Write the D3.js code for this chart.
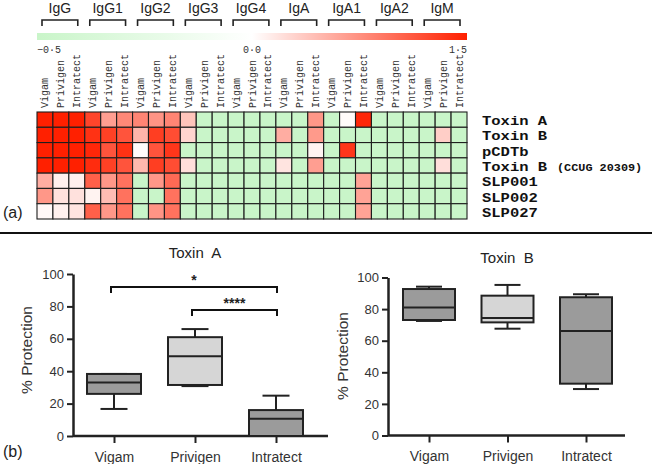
<!DOCTYPE html>
<html><head><meta charset="utf-8">
<script src="https://cdn.jsdelivr.net/npm/d3@7"></script>
<style>body{margin:0;background:#fff}svg{display:block}</style>
</head><body>
<script>
// ---------- DATA ----------
const groups = ["IgG","IgG1","IgG2","IgG3","IgG4","IgA","IgA1","IgA2","IgM"];
const products = ["Vigam","Privigen","Intratect"];
const antigens = ["Toxin A","Toxin B","pCDTb","Toxin B","SLP001","SLP002","SLP027"];
const antigenNotes = ["","","","(CCUG 20309)","","",""];
const scaleTicks = ["\u22120\u00b75","0\u00b70","1\u00b75"];
const scaleValues = [-0.5, 0, 1.5];
const G = -0.5;
const heatToxinA  = [1.5,1.5,1.5, 1.25,0.65,0.8, 0.82,0.72,0.82, 0.4,G,G, G,G,G, G,G,0.7, G,0.03,1.45, G,G,G, G,G,G];
const heatToxinB  = [1.5,1.5,1.5, 1.38,1.28,1.15, 0.5,1.3,1.2, 0.28,G,G, G,G,G, 0.55,G,0.68, G,G,G, G,G,G, G,0.33,G];
const heatPCDTb   = [1.5,1.5,1.5, 1.45,1.15,1.38, 0.03,1.15,1.35, G,G,G, G,G,G, G,G,0.08, G,1.35,G, G,G,G, G,G,G];
const heatToxinBC = [1.5,1.5,1.5, 1.42,1.28,1.15, 0.48,1.3,1.2, 0.22,G,G, G,G,G, 0.18,G,0.65, G,G,G, G,G,G, G,0.22,G];
const heatSLP001  = [0.55,0.1,0.1, 1.07,0.7,0.95, G,0.7,1.0, G,G,G, G,G,G, G,G,G, G,G,0.62, G,G,G, G,G,G];
const heatSLP002  = [0.7,0.2,0.2, 0.08,0.45,0.95, G,G,0.95, G,G,G, G,G,G, G,G,G, G,G,0.62, G,G,G, G,G,G];
const heatSLP027  = [0.05,0.1,0.18, 1.07,0.7,0.95, G,0.72,0.95, G,G,G, G,G,G, G,G,G, G,G,0.62, G,G,G, G,G,G];
const heatRows = [heatToxinA, heatToxinB, heatPCDTb, heatToxinBC, heatSLP001, heatSLP002, heatSLP027];

const boxCategories = ["Vigam","Privigen","Intratect"];
const boxFills = ["#9b9b9b","#d6d6d6","#9b9b9b"];
const yTicks = [0,20,40,60,80,100];
// five-number summaries [min, q1, median, q3, max]
const toxinAStats = [[16.7,26,33,38.3,38.3],[30.8,31.5,49.3,61,66],[0,0,10.7,16,24.9]];
const toxinBStats = [[72.5,73.1,81,92.7,94.2],[67.6,71.6,74.4,88.5,95.3],[29.4,32.8,66.1,87.5,89.4]];
const toxinASig = [{from:"Vigam",to:"Intratect",y:92,label:"*"},{from:"Privigen",to:"Intratect",y:77.8,label:"****"}];

// ---------- SVG ----------
const W = 652, H = 464;
const svg = d3.select("body").append("svg").attr("width",W).attr("height",H);
svg.append("rect").attr("width",W).attr("height",H).attr("fill","#fff");

// ---------- HEATMAP ----------
const cols = [];
groups.forEach(g => products.forEach(p => cols.push(g + "|" + p)));
const x = d3.scaleBand().domain(cols).range([37,467]);
const y = d3.scaleBand().domain(d3.range(antigens.length)).range([112,219]);
const color = d3.scaleLinear().domain([-0.5,0,1.5]).range(["#c9f5c9","#ffffff","#ff2000"]).clamp(true);

const gg = svg.append("g");
groups.forEach(g => {
  const x0 = x(g+"|Vigam") + 5, x1 = x(g+"|Intratect") + x.bandwidth() - 7;
  gg.append("text").attr("x",(x0+x1)/2).attr("y",13).attr("text-anchor","middle")
    .attr("font-family","Liberation Sans, Arial, sans-serif").attr("font-size",14).attr("fill","#222").text(g);
  gg.append("path").attr("d",`M${x0},26V20H${x1}V26`).attr("fill","none").attr("stroke","#222").attr("stroke-width",1.6);
});

const barX = d3.scaleLinear().domain([-0.5,0,1.5]).range([37,252,467]);
const defs = svg.append("defs");
const grad = defs.append("linearGradient").attr("id","cbar").attr("x1","0%").attr("x2","100%");
d3.range(0,1.0001,0.05).forEach(t => {
  const px = 37 + t*(467-37);
  grad.append("stop").attr("offset",(t*100)+"%").attr("stop-color",color(barX.invert(px)));
});
svg.append("rect").attr("x",barX(-0.5)).attr("y",33).attr("width",barX(1.5)-barX(-0.5)).attr("height",7).attr("fill","url(#cbar)");
scaleValues.forEach((v,i) => {
  svg.append("text").attr("x",barX(v)).attr("y",53)
    .attr("text-anchor", i===0 ? "start" : (i===2 ? "end" : "middle"))
    .attr("font-family","Liberation Mono, monospace").attr("font-size",10).attr("fill","#333").text(scaleTicks[i]);
});

cols.forEach(c => {
  const cx = x(c) + x.bandwidth()/2 + 3.5;
  svg.append("text").attr("transform",`translate(${cx},108) rotate(-90)`)
    .attr("text-anchor","start").attr("font-family","Liberation Mono, monospace").attr("font-size",10)
    .attr("fill","#333").text(c.split("|")[1]);
});

heatRows.forEach((row,ri) => {
  svg.append("g").selectAll("rect").data(row).join("rect")
    .attr("x",(d,ci) => x(cols[ci])).attr("y",y(ri))
    .attr("width",x.bandwidth()).attr("height",y.bandwidth())
    .attr("fill",d => color(d)).attr("stroke","#1e1e1e").attr("stroke-width",1.1);
});

antigens.forEach((a,i) => {
  const by = y(i)+y.bandwidth()/2+5.5;
  svg.append("text").attr("x",482).attr("y",by)
    .attr("font-family","Liberation Mono, Courier New, monospace").attr("font-weight","bold")
    .attr("font-size",13).attr("fill","#111")
    .attr("textLength",a.length*9.3).attr("lengthAdjust","spacingAndGlyphs").text(a);
  if (antigenNotes[i]) svg.append("text").attr("x",557).attr("y",by)
    .attr("font-family","Liberation Mono, Courier New, monospace").attr("font-weight","bold")
    .attr("font-size",11).attr("fill","#111")
    .attr("textLength",antigenNotes[i].length*7.1).attr("lengthAdjust","spacingAndGlyphs").text(antigenNotes[i]);
});

svg.append("text").attr("x",3).attr("y",218).attr("font-family","Liberation Sans, Arial, sans-serif")
  .attr("font-size",16).attr("fill","#222").text("(a)");

svg.append("line").attr("x1",0).attr("x2",652).attr("y1",233).attr("y2",233).attr("stroke","#111").attr("stroke-width",2);

svg.append("text").attr("x",3).attr("y",457).attr("font-family","Liberation Sans, Arial, sans-serif")
  .attr("font-size",16).attr("fill","#222").text("(b)");

// ---------- BOX PLOTS ----------
function boxPanel(opt) {
  const g = svg.append("g");
  const yS = d3.scaleLinear().domain([0,100]).range([opt.y0, opt.y100]);
  const xS = d3.scalePoint().domain(boxCategories).range([opt.c0, opt.c2]);
  const font = "Liberation Sans, Arial, sans-serif";
  g.append("text").attr("x",opt.titleX).attr("y",opt.titleY).attr("text-anchor","middle")
    .attr("font-family",font).attr("font-size",15).attr("fill","#222").attr("xml:space","preserve").text(opt.title);
  const ya = g.append("g").attr("transform",`translate(${opt.axisX},0)`)
    .call(d3.axisLeft(yS).tickValues(yTicks).tickSize(6).tickSizeOuter(0).tickPadding(3));
  ya.select(".domain").attr("stroke","#222").attr("stroke-width",2.5);
  ya.selectAll(".tick line").attr("stroke","#222").attr("stroke-width",2);
  ya.selectAll(".tick text").attr("font-family",font).attr("font-size",13).attr("fill","#333");
  const xa = g.append("g").attr("transform",`translate(0,${opt.y0})`)
    .call(d3.axisBottom(xS).tickSize(7).tickPadding(6));
  xa.select(".domain").remove();
  xa.selectAll(".tick line").attr("stroke","#222").attr("stroke-width",2);
  xa.selectAll(".tick text").attr("font-family",font).attr("font-size",14).attr("fill","#333").attr("dy","0.9em");
  g.append("line").attr("x1",opt.axisX).attr("x2",opt.xEnd).attr("y1",opt.y0).attr("y2",opt.y0)
    .attr("stroke","#222").attr("stroke-width",2.5);
  g.append("text").attr("transform",`translate(${opt.labelX},${opt.labelY}) rotate(-90)`)
    .attr("text-anchor","middle").attr("font-family",font).attr("font-size",15.5).attr("fill","#333")
    .text("% Protection");
  opt.stats.forEach((s,i) => {
    const cx = xS(boxCategories[i]), bw = opt.bw, cw = bw/2;
    const [mn,q1,md,q3,mx] = s;
    const ln = (x1,y1,x2,y2) => g.append("line").attr("x1",x1).attr("y1",y1).attr("x2",x2).attr("y2",y2)
      .attr("stroke","#222").attr("stroke-width",2);
    ln(cx, yS(q3), cx, yS(mx)); ln(cx-cw/2, yS(mx), cx+cw/2, yS(mx));
    ln(cx, yS(q1), cx, yS(mn)); ln(cx-cw/2, yS(mn), cx+cw/2, yS(mn));
    g.append("rect").attr("x",cx-bw/2).attr("y",yS(q3)).attr("width",bw).attr("height",Math.max(0,yS(q1)-yS(q3)))
      .attr("fill",boxFills[i]).attr("stroke","#222").attr("stroke-width",2);
    ln(cx-bw/2, yS(md), cx+bw/2, yS(md));
  });
  (opt.sig||[]).forEach(s => {
    const xa1 = xS(s.from)-3, xa2 = xS(s.to)+1, yy = yS(s.y);
    g.append("path").attr("d",`M${xa1},${yy+6}V${yy}H${xa2}V${yy+6}`).attr("fill","none")
      .attr("stroke","#111").attr("stroke-width",2);
    g.append("text").attr("x",(xa1+xa2)/2).attr("y",yy-2).attr("text-anchor","middle")
      .attr("font-family",font).attr("font-size",14).attr("font-weight","bold").attr("fill","#222").text(s.label);
  });
}

boxPanel({title:"Toxin  A", titleX:195, titleY:258, y0:436, y100:274, axisX:73, xEnd:328,
  c0:114, c2:276, bw:54, labelX:32, labelY:350, stats:toxinAStats, sig:toxinASig});
boxPanel({title:"Toxin  B", titleX:507, titleY:263, y0:435.5, y100:277.5, axisX:388, xEnd:625,
  c0:429, c2:586, bw:52, labelX:348, labelY:356, stats:toxinBStats, sig:[]});
</script>
</body></html>
